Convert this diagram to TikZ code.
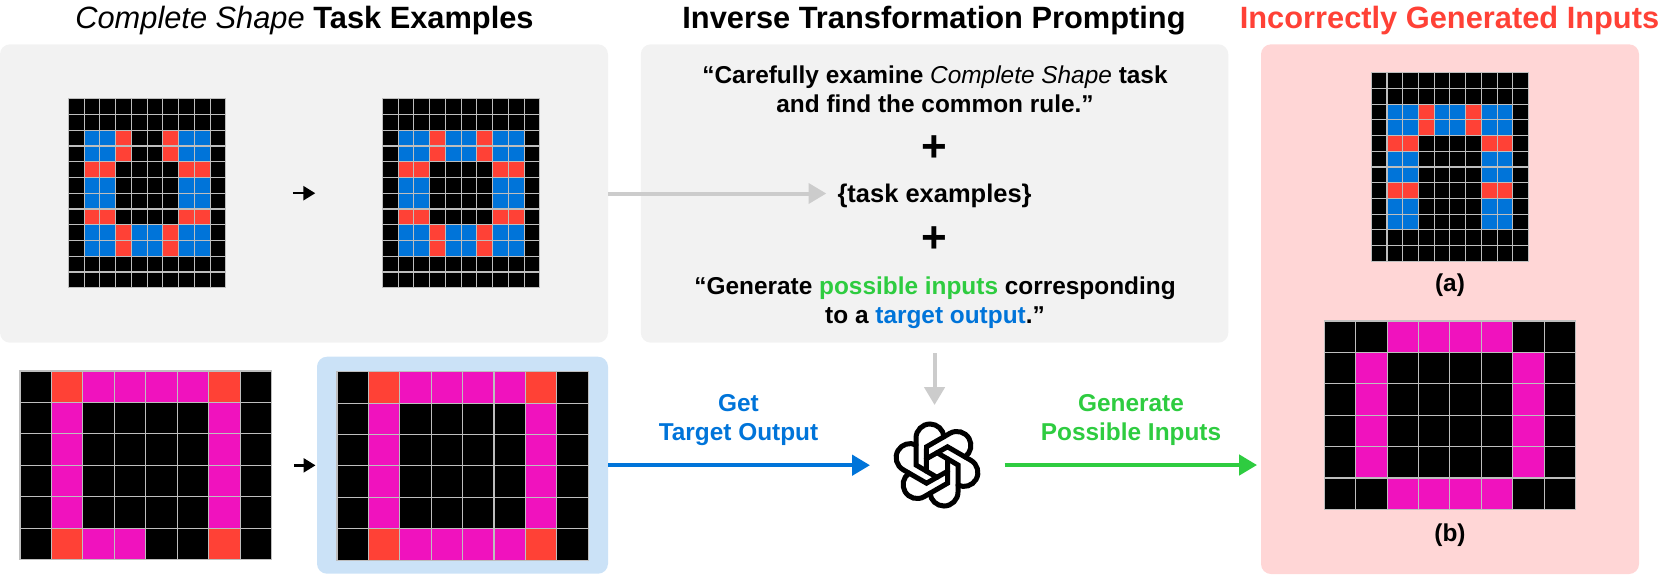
\documentclass[tikz,border=0pt]{standalone}
\usepackage{fontspec}
\setmainfont{Liberation Sans}
\usetikzlibrary{arrows.meta, positioning}
\definecolor{arcK}{RGB}{0,0,0}
\definecolor{arcB}{RGB}{0,116,217}
\definecolor{arcR}{RGB}{255,65,54}
\definecolor{arcM}{RGB}{240,18,190}
\definecolor{agreen}{RGB}{46,204,64}
\definecolor{lgray}{RGB}{242,242,242}
\definecolor{lpink}{RGB}{255,214,214}
\definecolor{lblue}{RGB}{203,226,247}
\definecolor{agray}{RGB}{204,204,204}
\definecolor{gridgray}{RGB}{190,190,190}

% name, left, top, columns, rows, cell size, cell colours
\newcommand{\arcgrid}[7]{
  \foreach \cell [count=\n from 0] in {#7} {
    \pgfmathtruncatemacro{\col}{mod(\n,#4)}
    \pgfmathtruncatemacro{\row}{div(\n,#4)}
    \path[cellbox, fill=arc\cell] (#2+\col*#6, #3+\row*#6) rectangle ++(#6,#6);
  }
  \node[gridframe, minimum width={#4*#6*1pt}, minimum height={#5*#6*1pt}] (#1) at (#2,#3) {};
}

\begin{document}
\begin{tikzpicture}[x=1pt, y=-1pt,
  panel/.style={
    rectangle, rounded corners=10pt, anchor=north west,
    inner sep=0pt, outer sep=0pt
  },
  cellbox/.style={draw=gridgray, line width=1.1pt},
  gridframe/.style={rectangle, anchor=north west, inner sep=0pt, outer sep=0pt},
  titletext/.style={anchor=base, inner sep=0pt, font=\fontsize{30.8}{36}\selectfont\bfseries},
  prompttext/.style={align=center, inner sep=0pt, font=\fontsize{24.4}{28.6}\selectfont\bfseries},
  plustext/.style={anchor=center, inner sep=0pt, font=\fontsize{44}{44}\selectfont\bfseries},
  grayarr/.style={-{Triangle[length=17.8pt,width=20pt]}, line width=4pt, draw=agray},
  bluearr/.style={-{Triangle[length=17.8pt,width=20pt]}, line width=4pt, draw=arcB},
  greenarr/.style={-{Triangle[length=17.8pt,width=20pt]}, line width=4pt, draw=agreen},
  smallarr/.style={-{Triangle[length=12pt,width=14pt]}, line width=2.5pt, draw=black},
  logoline/.style={draw=black, line width=5pt, line cap=round, line join=miter}
]
  \useasboundingbox (0,0) rectangle (1661,574);

  \node[titletext] (lefttitle) at (304.5,28.5) {\mdseries\itshape Complete Shape \normalfont\bfseries Task Examples};
  \node[titletext] (midtitle) at (934,28.5) {Inverse Transformation Prompting};
  \node[titletext, text=arcR] (righttitle) at (1449.5,28.5) {Incorrectly Generated Inputs};

  \node[panel, fill=lgray, minimum width=608pt, minimum height=298.4pt] (taskpanel) at (0,44.3) {};
  \node[panel, fill=lgray, minimum width=587.5pt, minimum height=298.4pt] (promptpanel) at (640.8,44.3) {};
  \node[panel, fill=lpink, minimum width=378pt, minimum height=529.7pt] (wrongpanel) at (1261,44.3) {};
  \node[panel, fill=lblue, minimum width=291pt, minimum height=217pt] (targetpanel) at (317,356.7) {};

  % task examples
  \arcgrid{gridone}{68.3}{98.7}{10}{12}{15.75}{
    K,K,K,K,K,K,K,K,K,K,
    K,K,K,K,K,K,K,K,K,K,
    K,B,B,R,K,K,R,B,B,K,
    K,B,B,R,K,K,R,B,B,K,
    K,R,R,K,K,K,K,R,R,K,
    K,B,B,K,K,K,K,B,B,K,
    K,B,B,K,K,K,K,B,B,K,
    K,R,R,K,K,K,K,R,R,K,
    K,B,B,R,B,B,R,B,B,K,
    K,B,B,R,B,B,R,B,B,K,
    K,K,K,K,K,K,K,K,K,K,
    K,K,K,K,K,K,K,K,K,K}
  \arcgrid{gridtwo}{382.3}{98.7}{10}{12}{15.75}{
    K,K,K,K,K,K,K,K,K,K,
    K,K,K,K,K,K,K,K,K,K,
    K,B,B,R,B,B,R,B,B,K,
    K,B,B,R,B,B,R,B,B,K,
    K,R,R,K,K,K,K,R,R,K,
    K,B,B,K,K,K,K,B,B,K,
    K,B,B,K,K,K,K,B,B,K,
    K,R,R,K,K,K,K,R,R,K,
    K,B,B,R,B,B,R,B,B,K,
    K,B,B,R,B,B,R,B,B,K,
    K,K,K,K,K,K,K,K,K,K,
    K,K,K,K,K,K,K,K,K,K}
  \arcgrid{gridthree}{20}{371}{8}{6}{31.45}{
    K,R,M,M,M,M,R,K,
    K,M,K,K,K,K,M,K,
    K,M,K,K,K,K,M,K,
    K,M,K,K,K,K,M,K,
    K,M,K,K,K,K,M,K,
    K,R,M,M,K,K,R,K}
  \arcgrid{gridfour}{337}{371.7}{8}{6}{31.4}{
    K,R,M,M,M,M,R,K,
    K,M,K,K,K,K,M,K,
    K,M,K,K,K,K,M,K,
    K,M,K,K,K,K,M,K,
    K,M,K,K,K,K,M,K,
    K,R,M,M,M,M,R,K}

  % wrong inputs
  \arcgrid{grida}{1371.3}{72.7}{10}{12}{15.72}{
    K,K,K,K,K,K,K,K,K,K,
    K,K,K,K,K,K,K,K,K,K,
    K,B,B,R,B,B,R,B,B,K,
    K,B,B,R,B,B,R,B,B,K,
    K,R,R,K,K,K,K,R,R,K,
    K,B,B,K,K,K,K,B,B,K,
    K,B,B,K,K,K,K,B,B,K,
    K,R,R,K,K,K,K,R,R,K,
    K,B,B,K,K,K,K,B,B,K,
    K,B,B,K,K,K,K,B,B,K,
    K,K,K,K,K,K,K,K,K,K,
    K,K,K,K,K,K,K,K,K,K}
  \arcgrid{gridb}{1324.3}{321}{8}{6}{31.4}{
    K,K,M,M,M,M,K,K,
    K,M,K,K,K,K,M,K,
    K,M,K,K,K,K,M,K,
    K,M,K,K,K,K,M,K,
    K,M,K,K,K,K,M,K,
    K,K,M,M,M,M,K,K}
  \node[prompttext, anchor=base] (labela) at (1450,291) {(a)};
  \node[prompttext, anchor=base] (labelb) at (1450,541) {(b)};

  % prompt text
  \node[prompttext] (promptone) at (935,89.5) {“Carefully examine {\mdseries\itshape Complete Shape} task\\and find the common rule.”};
  \node[plustext] (plusone) at (934.5,149) {+};
  \node[prompttext, anchor=base, font=\fontsize{25.5}{30}\selectfont\bfseries] (taskex) at (934.6,202.7) {\{task examples\}};
  \node[plustext] (plustwo) at (934.5,240) {+};
  \node[prompttext] (prompttwo) at (935,302.5) {“Generate \textcolor{agreen}{possible inputs} corresponding\\to a \textcolor{arcB}{target output}.”};

  % arrow labels
  \node[prompttext, text=arcB] (getlabel) at (738.5,420) {Get\\Target Output};
  \node[prompttext, text=agreen] (genlabel) at (1131,420) {Generate\\Possible Inputs};

  % logo
  \node[circle, minimum size=86pt, inner sep=0pt, outer sep=0pt] (logo) at (937,465) {};
  \foreach \a in {0,60,...,300} {
    \begin{scope}[shift={(logo.center)}, x=1pt, y=1pt, rotate=\a]
      \draw[logoline] (0,-12.35) -- (-21,0) -- (-21,27) arc[start angle=180, end angle=5, radius=14];
    \end{scope}
  }

  \coordinate (wronginput) at (1257,465);

  \draw[smallarr, shorten <=67pt, shorten >=67pt] (gridone) -- (gridtwo);
  \draw[smallarr, shorten <=22.5pt, shorten >=1.5pt] (gridthree.east) -- (targetpanel.west |- gridthree.east);
  \draw[grayarr, shorten >=11pt] (taskpanel.east) -- (taskex.west |- taskpanel.east);
  \draw[grayarr, shorten <=10.6pt, shorten >=17pt] (promptpanel.south) -- (promptpanel.south |- logo.north);
  \draw[bluearr, shorten >=24pt] (targetpanel.east) -- (logo.west |- targetpanel.east);
  \draw[greenarr, shorten <=24.6pt] (logo.east) -- (wronginput);
\end{tikzpicture}
\end{document}
